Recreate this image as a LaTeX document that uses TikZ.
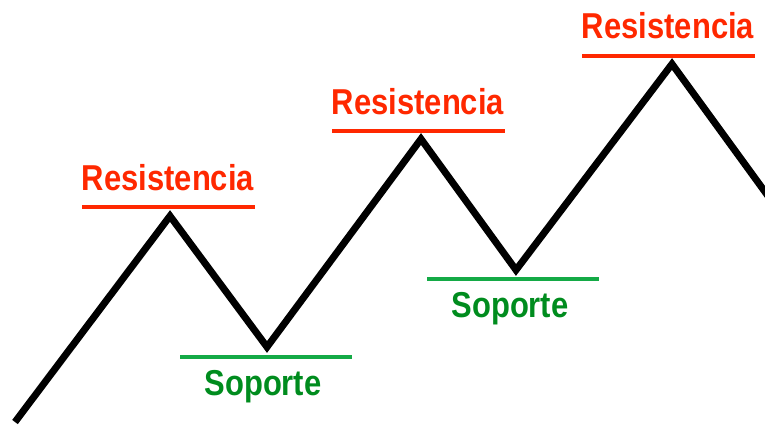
\documentclass[tikz,border=0pt]{standalone}
\usepackage{fontspec}
\newfontfamily\lblfont[FakeStretch=0.86]{Liberation Sans}
\definecolor{resred}{RGB}{255,40,0}
\definecolor{soplinegreen}{RGB}{20,170,70}
\definecolor{soptextgreen}{RGB}{0,140,30}

\begin{document}
\begin{tikzpicture}[x=1pt,y=-1pt,
    lbl/.style={anchor=base, inner sep=0pt, font=\lblfont\bfseries\fontsize{36}{42}\selectfont}]

        \useasboundingbox (0,0) rectangle (765,425);

        % price path
        \coordinate (p0) at (15,422);
        \coordinate (h1) at (170,216);
        \coordinate (l1) at (267,347);
        \coordinate (h2) at (421,139);
        \coordinate (l2) at (516,270);
        \coordinate (h3) at (672,64);
        \coordinate (p7) at (768,196);
        \draw[line width=7pt] (p0) -- (h1) -- (l1) -- (h2) -- (l2) -- (h3) -- (p7);

        % resistance levels
        \foreach \i/\x/\y in {1/168/207, 2/418/131, 3/668/56} {
            \coordinate (ra\i) at (\x-86,\y);
            \coordinate (rb\i) at (\x+87,\y);
            \draw[resred, line width=4.5pt] (ra\i) -- (rb\i);
            \node[lbl, text=resred] (res\i) at (\x,\y-17) {Resistencia};
        }

        % support levels
        \foreach \i/\x/\y in {1/266/357, 2/513/279} {
            \coordinate (sa\i) at (\x-86,\y);
            \coordinate (sb\i) at (\x+86,\y);
            \draw[soplinegreen, line width=4.5pt] (sa\i) -- (sb\i);
            \node[lbl, text=soptextgreen] (sop\i) at (\x-3,\y+38) {Soporte};
        }

\end{tikzpicture}
\end{document}
